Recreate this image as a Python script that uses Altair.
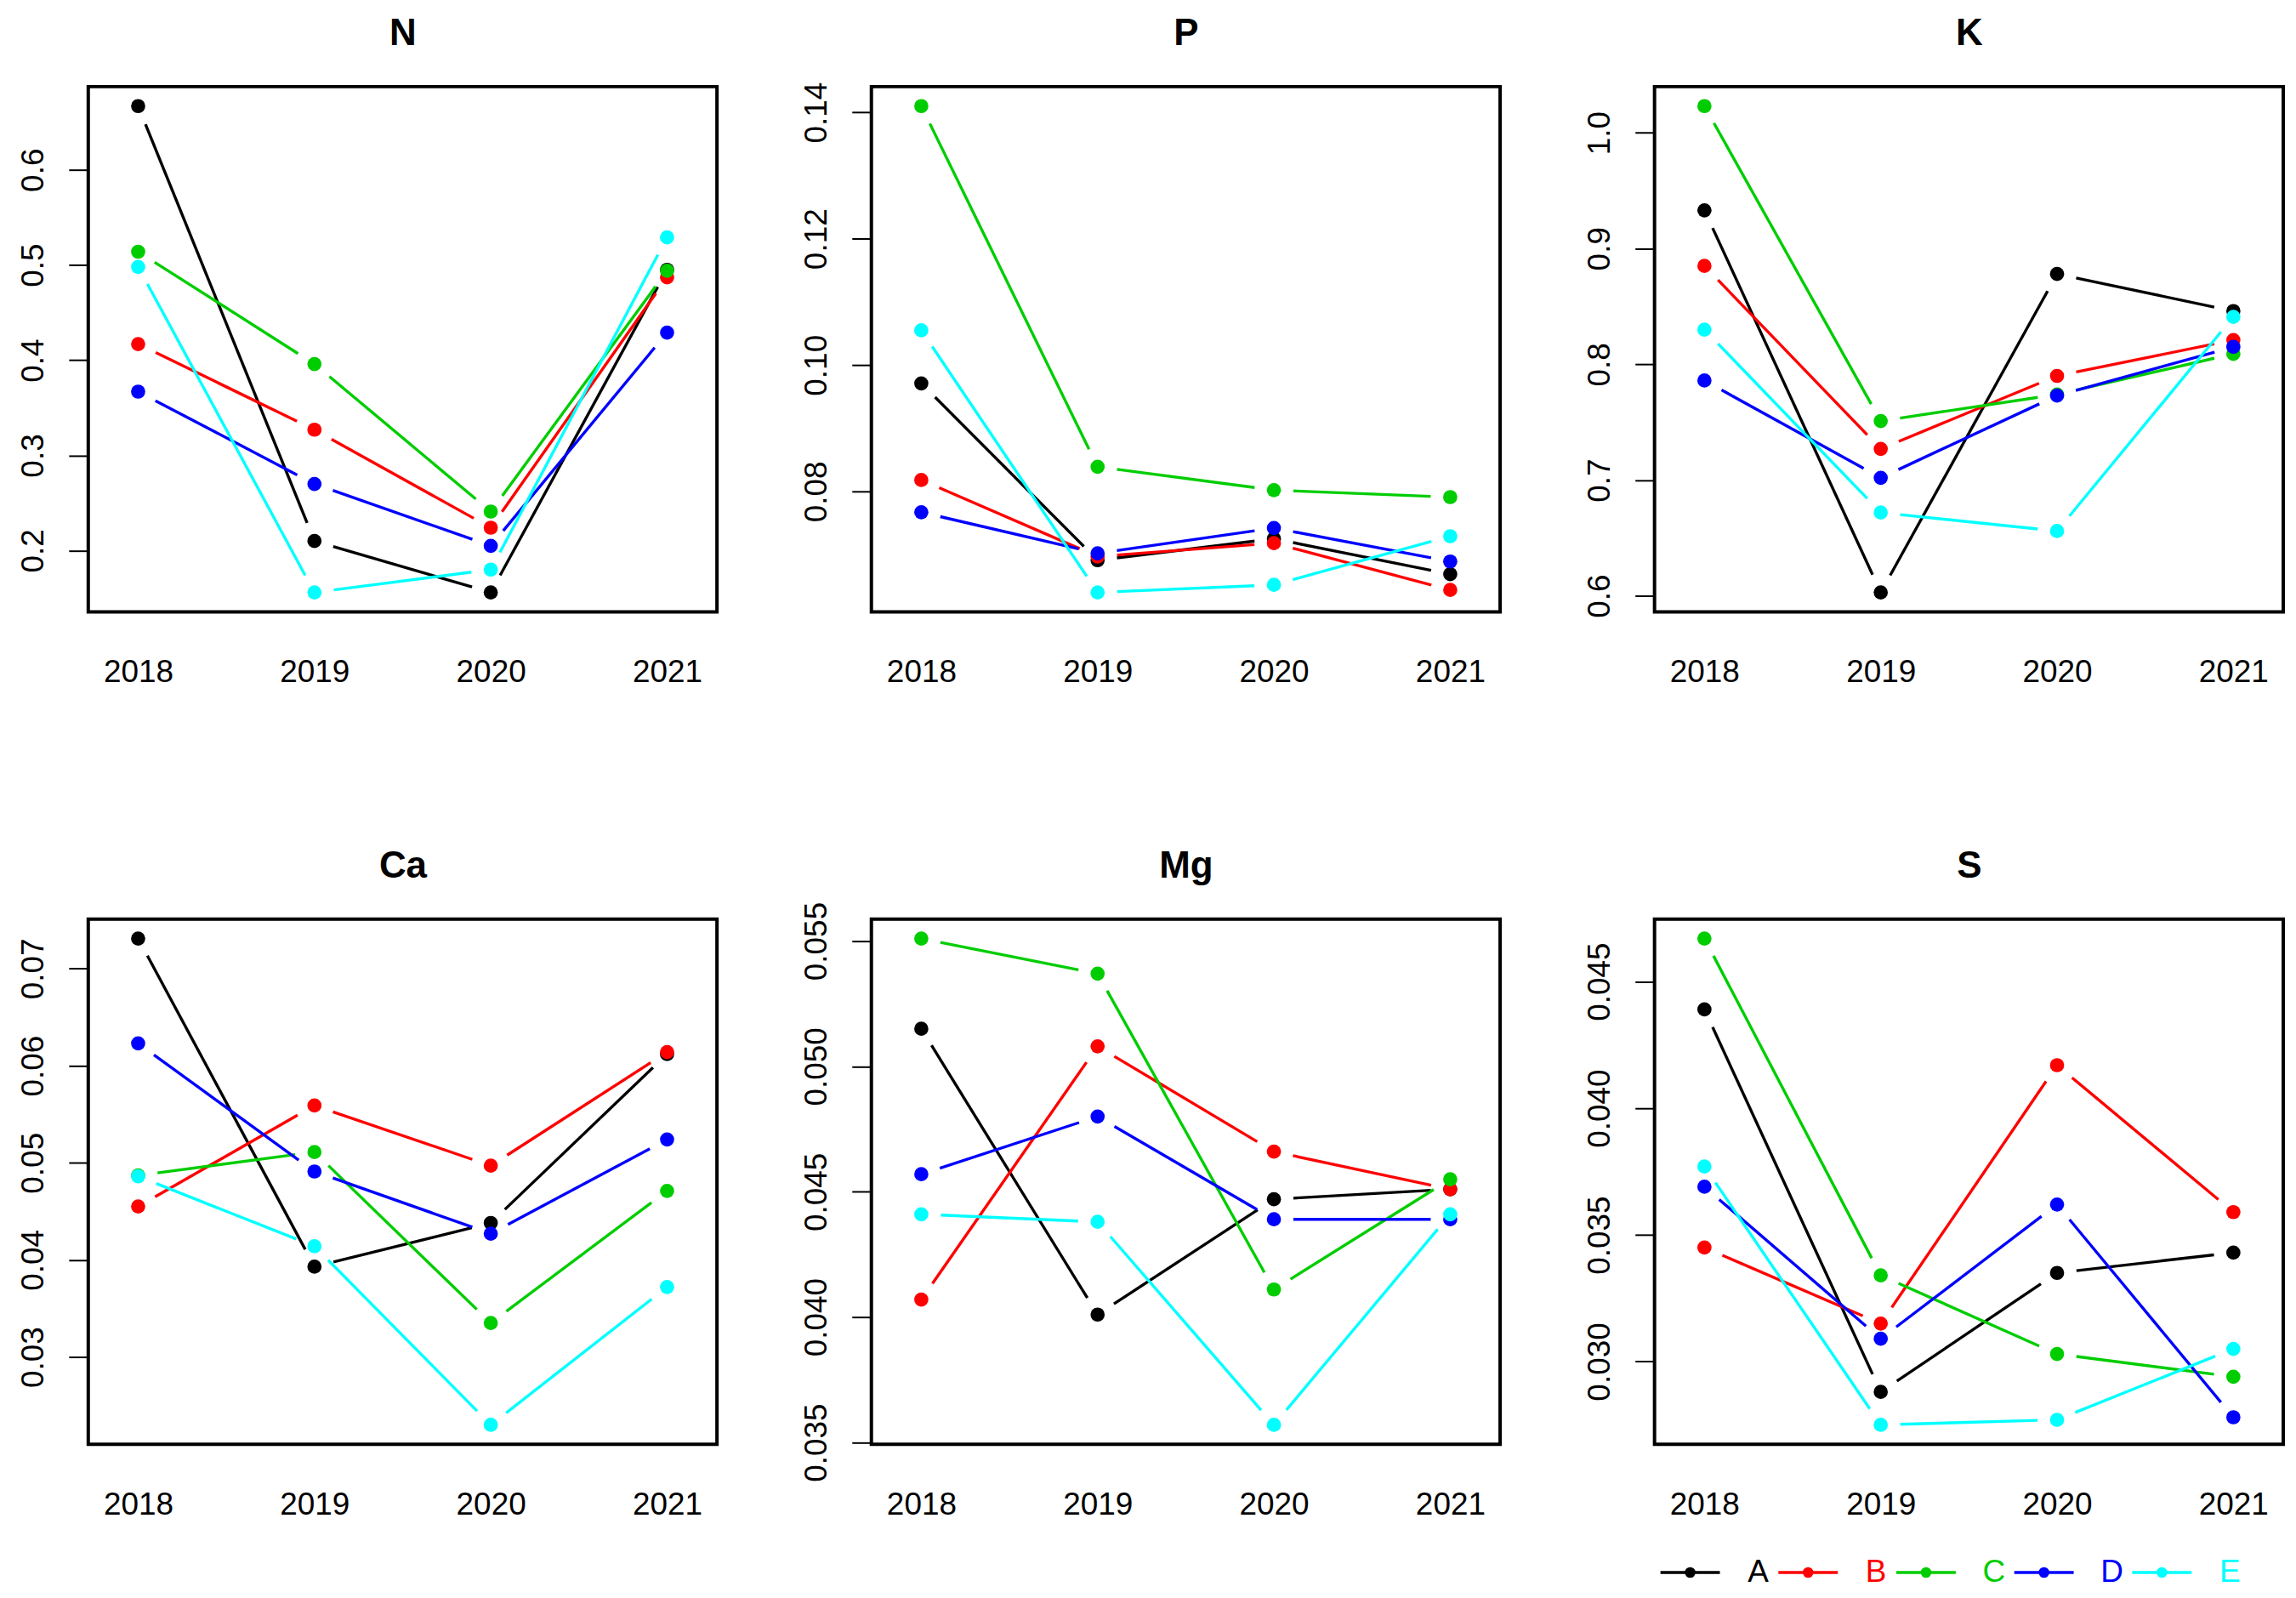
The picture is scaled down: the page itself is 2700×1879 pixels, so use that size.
import math
import altair as alt
import pandas as pd

# ---------------- data ----------------
years = [2018, 2019, 2020, 2021]
series = ["A", "B", "C", "D", "E"]
colors = ["#000000", "#FF0000", "#00CD00", "#0000FF", "#00FFFF"]

N_vals = {
    "A": [0.667, 0.210, 0.156, 0.495],
    "B": [0.417, 0.327, 0.224, 0.487],
    "C": [0.514, 0.396, 0.241, 0.494],
    "D": [0.367, 0.270, 0.205, 0.429],
    "E": [0.498, 0.156, 0.180, 0.529],
}
P_vals = {
    "A": [0.0971, 0.0691, 0.0725, 0.0669],
    "B": [0.0818, 0.0697, 0.0718, 0.0644],
    "C": [0.1410, 0.0839, 0.0802, 0.0791],
    "D": [0.0767, 0.0702, 0.0742, 0.0689],
    "E": [0.1055, 0.0640, 0.0652, 0.0729],
}
K_vals = {
    "A": [0.933, 0.603, 0.878, 0.846],
    "B": [0.885, 0.727, 0.790, 0.821],
    "C": [1.023, 0.751, 0.774, 0.809],
    "D": [0.786, 0.702, 0.773, 0.815],
    "E": [0.830, 0.672, 0.656, 0.841],
}
Ca_vals = {
    "A": [0.0731, 0.0393, 0.0438, 0.0612],
    "B": [0.0455, 0.0559, 0.0497, 0.0614],
    "C": [0.0487, 0.0511, 0.0335, 0.0471],
    "D": [0.0623, 0.0491, 0.0427, 0.0524],
    "E": [0.0486, 0.0414, 0.0230, 0.0372],
}
Mg_vals = {
    "A": [0.0515, 0.0401, 0.0447, 0.0451],
    "B": [0.0407, 0.0508, 0.0466, 0.0451],
    "C": [0.0551, 0.0537, 0.0411, 0.0455],
    "D": [0.0457, 0.0480, 0.0439, 0.0439],
    "E": [0.0441, 0.0438, 0.0357, 0.0441],
}
S_vals = {
    "A": [0.0439, 0.0288, 0.0335, 0.0343],
    "B": [0.0345, 0.0315, 0.0417, 0.0359],
    "C": [0.0467, 0.0334, 0.0303, 0.0294],
    "D": [0.0369, 0.0309, 0.0362, 0.0278],
    "E": [0.0377, 0.0275, 0.0277, 0.0305],
}

N_ticks = [0.2, 0.3, 0.4, 0.5, 0.6]
P_ticks = [0.08, 0.10, 0.12, 0.14]
K_ticks = [0.6, 0.7, 0.8, 0.9, 1.0]
Ca_ticks = [0.03, 0.04, 0.05, 0.06, 0.07]
Mg_ticks = [0.035, 0.040, 0.045, 0.050, 0.055]
S_ticks = [0.030, 0.035, 0.040, 0.045]

panels = [
    ("N", N_vals, N_ticks, ".1f"),
    ("P", P_vals, P_ticks, ".2f"),
    ("K", K_vals, K_ticks, ".1f"),
    ("Ca", Ca_vals, Ca_ticks, ".2f"),
    ("Mg", Mg_vals, Mg_ticks, ".3f"),
    ("S", S_vals, S_ticks, ".3f"),
]

# ---------------- style / layout ----------------
FONT = "Liberation Sans"
W, H = 741, 619
XPAD = 0.283
XDOM = [years[0] - XPAD, years[-1] + XPAD]
GAP = 23          # px gap between point centre and line end (R type = "b")
LABEL_SIZE = 37
TITLE_SIZE = 44
LINE_W = 3.4
DOT_SIZE = 280
LEG_UNIT = 139    # px between legend entries
LEG_W = 2560
LEG_FIRST = 1888  # px from legend left to first entry

color = alt.Color("series:N", scale=alt.Scale(domain=series, range=colors), legend=None)


def panel(name, vals, ticks, fmt):
    allv = [v for s in series for v in vals[s]]
    lo, hi = min(allv), max(allv)
    pad = 0.04 * (hi - lo)
    ydom = [lo - pad, hi + pad]
    sx = W / (XDOM[1] - XDOM[0])
    sy = H / (ydom[1] - ydom[0])
    pts, segs = [], []
    for s in series:
        v = vals[s]
        for yr, val in zip(years, v):
            pts.append({"series": s, "year": yr, "value": val})
        for i in range(len(years) - 1):
            x1, x2 = years[i], years[i + 1]
            y1, y2 = v[i], v[i + 1]
            L = math.hypot((x2 - x1) * sx, (y2 - y1) * sy)
            if L > 2 * GAP:
                t = GAP / L
                segs.append({
                    "series": s,
                    "xa": x1 + t * (x2 - x1), "xb": x2 - t * (x2 - x1),
                    "ya": y1 + t * (y2 - y1), "yb": y2 - t * (y2 - y1),
                })
    xscale = alt.Scale(domain=XDOM, nice=False, zero=False)
    yscale = alt.Scale(domain=ydom, nice=False, zero=False)
    xaxis = alt.Axis(values=years, format="d", ticks=False, tickSize=0, domain=False,
                     grid=False, labelPadding=71, labelFontSize=LABEL_SIZE,
                     labelBaseline="middle", labelColor="black", labelFont=FONT,
                     labelFlush=False, labelOverlap=False, title=None)
    topaxis = alt.Axis(orient="top", labels=False, ticks=False, tickSize=0, domain=False,
                       grid=False, title=name, titleFontSize=TITLE_SIZE, titleFont=FONT,
                       titleFontWeight="bold", titleColor="black", titlePadding=49,
                       titleBaseline="alphabetic", titleAnchor="middle")
    yaxis = alt.Axis(values=ticks, format=fmt, grid=False, domain=False,
                     tickSize=23, tickWidth=2, tickColor="black",
                     labelAngle=270, labelAlign="center", labelBaseline="alphabetic",
                     labelPadding=30, labelFontSize=LABEL_SIZE, labelColor="black",
                     labelFont=FONT, labelFlush=False, labelOverlap=False, title=None)
    lines = alt.Chart(pd.DataFrame(segs)).mark_rule(strokeWidth=LINE_W).encode(
        x=alt.X("xa:Q", scale=xscale, axis=xaxis),
        x2="xb:Q",
        y=alt.Y("ya:Q", scale=yscale, axis=yaxis),
        y2="yb:Q",
        color=color,
    )
    dots = alt.Chart(pd.DataFrame(pts)).mark_circle(size=DOT_SIZE, opacity=1).encode(
        x=alt.X("year:Q", scale=xscale, axis=topaxis),
        y=alt.Y("value:Q", scale=yscale, axis=yaxis),
        color=color,
    )
    return alt.layer(lines, dots).resolve_axis(x="independent").properties(
        width=W, height=H,
        view=alt.ViewBackground(stroke="black", strokeWidth=4, fill="white"),
    )


grid = alt.concat(*[panel(*p) for p in panels], columns=3,
                  spacing={"row": 362, "column": 182}, bounds="flush")

# ---------------- legend ----------------
idx = list(range(len(series)))
leg = pd.DataFrame({
    "series": series,
    "idx": idx,
    "xa": [i - 0.252 for i in idx],
    "xb": [i + 0.252 for i in idx],
    "tx": [i + 0.576 for i in idx],
    "y": [0.5] * len(series),
})
d0 = -LEG_FIRST / LEG_UNIT
lxs = alt.Scale(domain=[d0, d0 + LEG_W / LEG_UNIT], nice=False, zero=False)
lys = alt.Scale(domain=[0, 1])
lbase = alt.Chart(leg)
leg_lines = lbase.mark_rule(strokeWidth=LINE_W).encode(
    x=alt.X("xa:Q", scale=lxs, axis=None), x2="xb:Q",
    y=alt.Y("y:Q", scale=lys, axis=None), color=color)
leg_dots = lbase.mark_circle(size=160, opacity=1).encode(
    x=alt.X("idx:Q", scale=lxs, axis=None),
    y=alt.Y("y:Q", scale=lys, axis=None), color=color)
leg_text = lbase.mark_text(fontSize=LABEL_SIZE, font=FONT, align="center", baseline="middle").encode(
    x=alt.X("tx:Q", scale=lxs, axis=None),
    y=alt.Y("y:Q", scale=lys, axis=None), text="series:N", color=color)
legend = alt.layer(leg_lines, leg_dots, leg_text).properties(
    width=LEG_W, height=40, view=alt.ViewBackground(stroke="transparent"))

chart = alt.vconcat(grid, legend, spacing=39).properties(
    padding={"left": 10, "top": 6, "right": 5, "bottom": 5}
).configure(background="white").configure_view(stroke="transparent")

chart.save("out.html", embed_options={"renderer": "svg", "actions": False})
